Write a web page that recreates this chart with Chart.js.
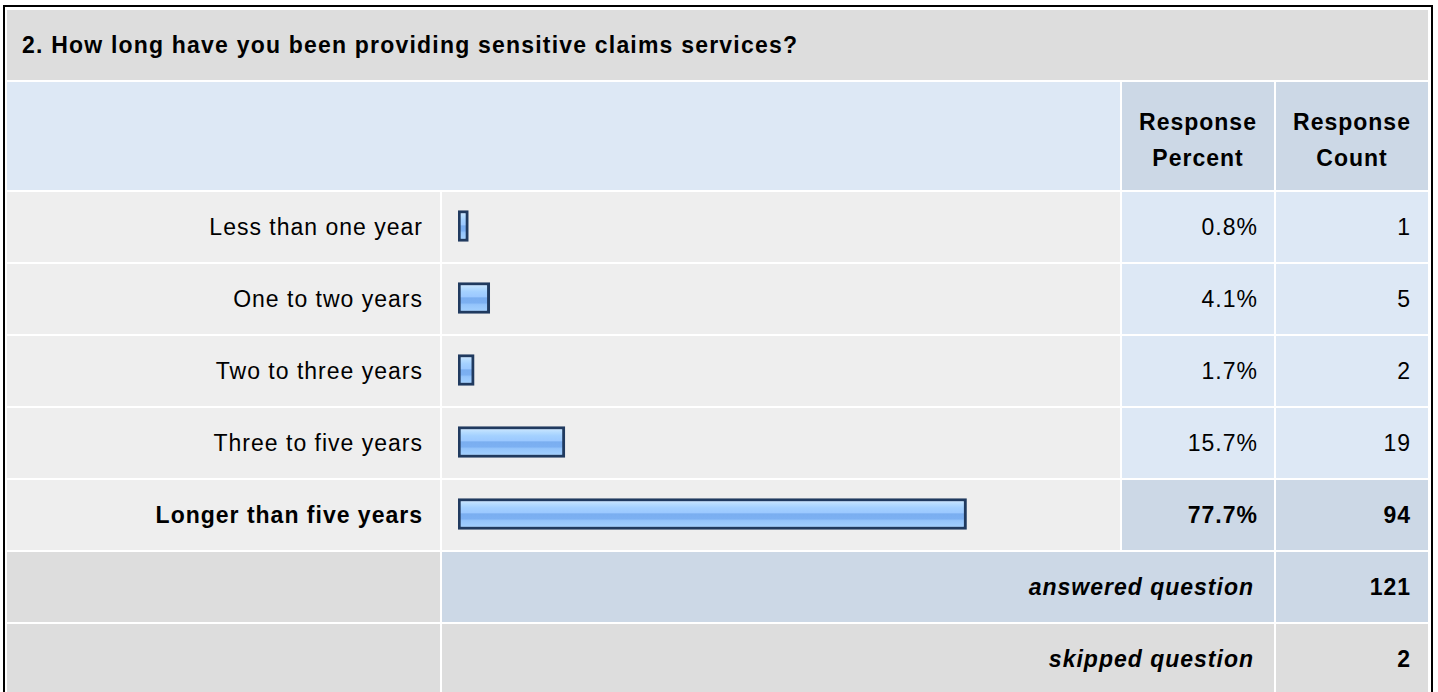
<!DOCTYPE html>
<html>
<head>
<meta charset="utf-8">
<script src="https://cdn.jsdelivr.net/npm/chart.js@4.4.1/dist/chart.umd.min.js"></script>
<style>
  html, body { margin: 0; padding: 0; background: #fff; overflow: hidden; }
  body { width: 1438px; height: 692px; position: relative;
         font-family: "Liberation Sans", Arial, sans-serif; color: #000; }
  .frame { position: absolute; left: 3px; top: 5px; width: 1426px; height: 700px;
           border: 2px solid #000; }
  .cell { position: absolute; box-sizing: border-box; display: flex; align-items: center;
          font-size: 23px; letter-spacing: 1px; }
  .r { justify-content: flex-end; }
  .c { justify-content: center; text-align: center; }
  .b { font-weight: bold; }
  .i { font-style: italic; }
  #bars { position: absolute; left: 442px; top: 190px; }
</style>
</head>
<body>
<div class="frame"></div>
<div id="table"></div>
<canvas id="bars" width="678" height="360"></canvas>
<script>
// question and answers
const question = '2. How long have you been providing sensitive claims services?';
const categories = ['Less than one year', 'One to two years', 'Two to three years',
                    'Three to five years', 'Longer than five years'];
const percents = [0.8, 4.1, 1.7, 15.7, 77.7];
const counts = [1, 5, 2, 19, 94];
const answered = 121;
const skipped = 2;

// table geometry
const colX = [7, 442, 1122, 1276];
const colW = [433, 678, 152, 152];
const rowTop = 192, rowStep = 72, rowH = 70;

const GREY = '#dddddd', ROWGREY = '#eeeeee', BLUE = '#dde8f5', DARKBLUE = '#ccd8e6';

const table = document.getElementById('table');
function cell(x, y, w, h, bg, html, cls, pad) {
  const d = document.createElement('div');
  d.className = 'cell ' + (cls || '');
  d.style.cssText = `left:${x}px;top:${y}px;width:${w}px;height:${h}px;background:${bg};` + (pad || '');
  d.innerHTML = html;
  table.appendChild(d);
}

// title + header
cell(7, 10, 1421, 70, GREY, question, 'b', 'padding-left:15px;letter-spacing:1.2px;');
cell(colX[0], 82, colW[0] + 2 + colW[1], 108, BLUE, '');
cell(colX[2], 82, colW[2], 108, DARKBLUE, 'Response<br>Percent', 'b c', 'line-height:36px;padding-top:8px;');
cell(colX[3], 82, colW[3], 108, DARKBLUE, 'Response<br>Count', 'b c', 'line-height:36px;padding-top:8px;');

// answer rows, the most chosen one in bold
const topIdx = percents.indexOf(Math.max(...percents));
categories.forEach((name, i) => {
  const y = rowTop + i * rowStep;
  const hi = i === topIdx;
  const bold = hi ? ' b' : '';
  cell(colX[0], y, colW[0], rowH, ROWGREY, name, 'r' + bold, 'padding-right:17px;');
  cell(colX[1], y, colW[1], rowH, ROWGREY, '');
  cell(colX[2], y, colW[2], rowH, hi ? DARKBLUE : BLUE, percents[i].toFixed(1) + '%', 'r' + bold, 'padding-right:16px;');
  cell(colX[3], y, colW[3], rowH, hi ? DARKBLUE : BLUE, String(counts[i]), 'r' + bold, 'padding-right:17px;');
});

// summary rows
const yA = rowTop + categories.length * rowStep;
cell(colX[0], yA, colW[0], rowH, GREY, '');
cell(colX[1], yA, colW[1] + 2 + colW[2], rowH, DARKBLUE, 'answered question', 'r b i', 'padding-right:20px;');
cell(colX[3], yA, colW[3], rowH, DARKBLUE, String(answered), 'r b', 'padding-right:17px;');
const yS = yA + rowStep;
cell(colX[0], yS, colW[0], rowH, GREY, '');
cell(colX[1], yS, colW[1] + 2 + colW[2], rowH, GREY, 'skipped question', 'r b i', 'padding-right:20px;');
cell(colX[3], yS, colW[3], rowH, GREY, String(skipped), 'r b', 'padding-right:17px;');

// glossy blue bar fill, one gradient per bar
function barFill(c) {
  const chart = c.chart;
  const ys = chart.scales.y;
  if (!chart.chartArea || !ys || c.dataIndex === undefined) return '#9ccaff';
  const mid = ys.getPixelForValue(c.dataIndex);
  const g = chart.ctx.createLinearGradient(0, mid - 15, 0, mid + 15);
  g.addColorStop(0, '#d6ebff');
  g.addColorStop(0.18, '#b4dbff');
  g.addColorStop(0.3, '#a3d0ff');
  g.addColorStop(0.45, '#9cc9ff');
  g.addColorStop(0.5, '#7aaef0');
  g.addColorStop(0.66, '#7cb0f2');
  g.addColorStop(0.72, '#94c4fb');
  g.addColorStop(1, '#a6d3ff');
  return g;
}

new Chart(document.getElementById('bars'), {
  type: 'bar',
  data: {
    labels: categories,
    datasets: [{
      data: percents,
      base: -0.8,
      backgroundColor: barFill,
      borderColor: '#203a5f',
      borderWidth: 3,
      borderSkipped: false,
      barThickness: 31
    }]
  },
  options: {
    indexAxis: 'y',
    responsive: false,
    animation: false,
    layout: { padding: { left: 16, right: 9, top: 0, bottom: 0 } },
    plugins: { legend: { display: false }, tooltip: { enabled: false } },
    scales: {
      x: { display: false, min: -0.8, max: 100 },
      y: { display: false }
    }
  }
});
</script>
</body>
</html>
